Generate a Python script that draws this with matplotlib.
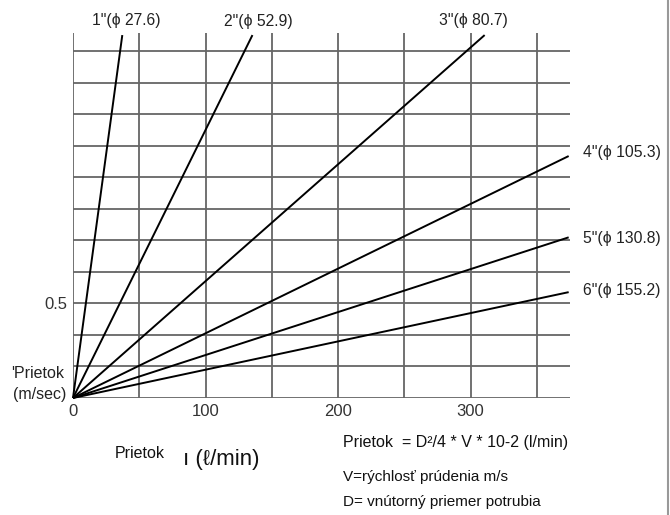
import matplotlib
matplotlib.use("Agg")
import matplotlib.pyplot as plt
from matplotlib.lines import Line2D

plt.rcParams['font.family'] = ['Liberation Sans', 'DejaVu Sans']

# ---- data ----
pipe_labels = ['1"(ϕ 27.6)', '2"(ϕ 52.9)', '3"(ϕ 80.7)',
               '4"(ϕ 105.3)', '5"(ϕ 130.8)', '6"(ϕ 155.2)']
flow_end = [37.2, 135.4, 310.6, 374.0, 374.0, 374.0]      # l/min at line end
velocity_end = [1.92, 1.92, 1.92, 1.28, 0.85, 0.56]        # m/sec at line end
x_ticks = [0, 100, 200, 300]
x_tick_labels = ['0', '100', '200', '300']
y_ticks = [0.5]
y_tick_labels = ['0.5']
x_grid = [0, 50, 100, 150, 200, 250, 300, 350]
y_grid = [k / 6 for k in range(0, 12)]

# label offsets (pixels) and alignment
label_offsets = [(4, 15), (6, 14), (-11, 15), (14, 4), (14, -1), (14, 2)]
label_ha = ['center', 'center', 'center', 'left', 'left', 'left']

W, H = 670, 515
fig = plt.figure(figsize=(W / 100, H / 100), dpi=100)
L, R, T, B = 73, 570, 33, 398
ax = fig.add_axes([L / W, 1 - B / H, (R - L) / W, (B - T) / H])
ax.set_xlim(0, 375)
ax.set_ylim(0, 1.931)

grid_color = '#666666'
for gx in x_grid:
    ax.axvline(gx, color=grid_color, lw=1.3, zorder=1)
for gy in y_grid:
    ax.axhline(gy, color=grid_color, lw=1.3, zorder=1)

for lab, fx, vy, off, ha in zip(pipe_labels, flow_end, velocity_end,
                                label_offsets, label_ha):
    ax.plot([0, fx], [0, vy], color='black', lw=1.4, zorder=3,
            solid_capstyle='butt', clip_on=False)
    ax.annotate(lab, xy=(fx, vy), xytext=off, textcoords='offset pixels',
                ha=ha, va='center', fontsize=11.3, color='#222222',
                annotation_clip=False)

for s in ax.spines.values():
    s.set_visible(False)
ax.set_xticks(x_ticks)
ax.set_xticklabels(x_tick_labels, fontsize=12, color='#333333')
ax.set_yticks(y_ticks)
ax.set_yticklabels(y_tick_labels, fontsize=12, color='#333333')
ax.tick_params(length=0, pad=4)

def ftext(x, y, s, **kw):
    fig.text(x / W, 1 - y / H, s, **kw)

ftext(64, 373, "'Prietok", ha='right', va='center', fontsize=11.5, color='#222222')
ftext(66, 395, "(m/sec)", ha='right', va='center', fontsize=11.5, color='#222222')
ftext(115, 453, "Prietok", ha='left', va='center', fontsize=11.5, color='#111111')
ftext(183, 460, "ı (ℓ/min)", ha='left', va='center', fontsize=16, color='#111111')
ftext(343, 443, "Prietok  = D²/4 * V * 10-2 (l/min)", ha='left', va='center',
      fontsize=11.5, color='#111111')
ftext(343, 477, "V=rýchlosť prúdenia m/s", ha='left', va='center',
      fontsize=11, color='#111111')
ftext(343, 502, "D= vnútorný priemer potrubia", ha='left', va='center',
      fontsize=11, color='#111111')

fig.add_artist(Line2D([668 / W, 668 / W], [0, 1], transform=fig.transFigure,
                      color='#999999', lw=1.5))

fig.savefig('out.png', dpi=100, facecolor='white')
